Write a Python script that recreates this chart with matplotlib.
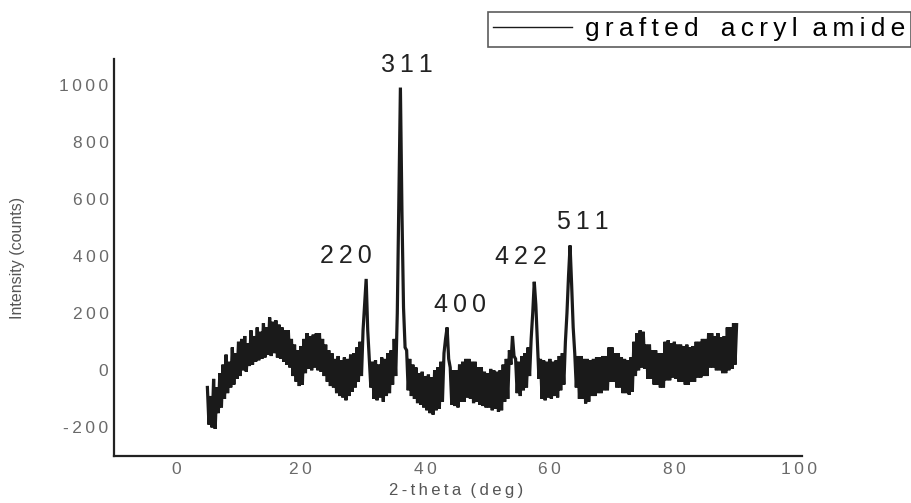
import numpy as np
import matplotlib
matplotlib.use("Agg")
from matplotlib import pyplot as plt
from matplotlib.ticker import FuncFormatter

# 2-theta grid, 0.25 deg steps from 5 to 90
two_theta = np.arange(5.0, 90.01, 0.25)

# intensity, four values per degree
intensity = [
    -60, -190, -90, -200,     # 5
    -30, -205, -60, -150,     # 6
    -10, -130, 20, -100,      # 7
    55, -80, 30, -60,         # 8
    80, -50, 60, -30,         # 9
    100, -20, 110, 0,         # 10
    120, -5, 95, 15,          # 11
    140, 20, 120, 30,         # 12
    150, 35, 135, 40,         # 13
    165, 45, 150, 55,         # 14
    185, 50, 170, 60,         # 15
    175, 45, 160, 40,         # 16
    150, 30, 140, 20,         # 17
    140, 10, 110, -20,        # 18
    90, -40, 70, -55,         # 19
    85, -50, 110, -10,        # 20
    130, 5, 120, 0,           # 21
    125, 10, 130, 0,          # 22
    130, -5, 110, -20,        # 23
    90, -40, 70, -55,         # 24
    60, -60, 40, -80,         # 25
    50, -90, 35, -95,         # 26
    45, -105, 40, -90,        # 27
    55, -75, 60, -60,         # 28
    80, -40, 100, -20,        # 29
    140, 230, 320, 140,       # 30
    40, -60, 30, -100,        # 31
    35, -105, 20, -95,        # 32
    45, -110, 40, -90,        # 33
    60, -80, 70, -50,         # 34
    110, -20, 200, 600,       # 35
    990, 550, 220, 80,        # 36
    70, -70, 40, -90,         # 37
    20, -100, 10, -115,       # 38
    -10, -120, -5, -130,      # 39
    -20, -140, -15, -150,     # 40
    -25, -155, 0, -140,       # 41
    10, -135, 30, -110,       # 42
    60, 110, 150, 40,         # 43
    10, -120, 0, -125,        # 44
    0, -130, 20, -110,        # 45
    30, -110, 40, -95,        # 46
    40, -100, 30, -115,       # 47
    30, -110, 10, -120,       # 48
    10, -125, -5, -130,       # 49
    -10, -130, 5, -140,       # 50
    0, -135, -5, -145,        # 51
    0, -140, 20, -110,        # 52
    40, -100, 70, 20,         # 53
    120, 50, 40, -80,         # 54
    30, -90, 50, -70,         # 55
    60, -60, 80, -20,         # 56
    110, 200, 310, 230,       # 57
    100, -30, 40, -100,       # 58
    35, -105, 30, -95,        # 59
    40, -100, 30, -90,        # 60
    35, -95, 50, -70,         # 61
    60, -50, 100, 200,        # 62
    330, 437, 300, 150,       # 63
    60, -60, 50, -100,        # 64
    50, -100, 40, -116,       # 65
    40, -110, 35, -90,        # 66
    40, -90, 45, -80,         # 67
    45, -80, 50, -70,         # 68
    50, -70, 80, -40,         # 69
    80, -40, 60, -60,         # 70
    60, -60, 45, -80,         # 71
    40, -80, 35, -85,         # 72
    45, -75, 100, -20,        # 73
    130, 0, 140, 10,          # 74
    135, 5, 90, -30,          # 75
    90, -30, 70, -50,         # 76
    70, -50, 60, -60,         # 77
    60, -60, 100, -35,        # 78
    105, -35, 95, -25,        # 79
    100, -30, 90, -40,        # 80
    90, -40, 85, -50,         # 81
    90, -50, 80, -40,         # 82
    85, -40, 100, -25,        # 83
    100, -25, 110, -20,       # 84
    110, -20, 130, 10,        # 85
    130, 10, 120, 0,          # 86
    130, 0, 115, -10,         # 87
    120, -10, 150, 0,         # 88
    150, 5, 165, 20,          # 89
    160,                      # 90
]

peak_labels = ["220", "311", "400", "422", "511"]
peak_label_x = [27.2, 37.1, 45.5, 55.3, 65.3]
peak_label_y = [402, 1070, 227, 395, 518]

x_ticks = [0, 20, 40, 60, 80, 100]
y_ticks = [-200, 0, 200, 400, 600, 800, 1000]

FAMILY = ["Liberation Sans", "DejaVu Sans"]
SP = "\u2009"


def spaced(s):
    # widen letter spacing like the original figure
    return SP.join(s)


plt.rcParams["font.family"] = FAMILY

fig = plt.figure(figsize=(9.12, 5.03), dpi=100)
ax = fig.add_axes([114 / 912, 1 - 456 / 503, (802 - 114) / 912, (456 - 59) / 503])

ax.plot(two_theta, intensity, color="#1a1a1a", linewidth=2.3, solid_joinstyle="miter",
        label=spaced("grafted") + "   " + spaced("acryl") + "  " + spaced("amide"))

ax.set_xlim(-10, 100.5)
ax.set_ylim(-300, 1090)
ax.set_xticks(x_ticks)
ax.set_yticks(y_ticks)
ax.xaxis.set_major_formatter(FuncFormatter(lambda v, p: spaced("%d" % v)))
ax.yaxis.set_major_formatter(FuncFormatter(lambda v, p: spaced("%d" % v)))
ax.tick_params(length=0, labelsize=12.5, labelcolor="#6a6a6a", pad=4)

for side in ["top", "right"]:
    ax.spines[side].set_visible(False)
for side in ["left", "bottom"]:
    ax.spines[side].set_color("#222222")
    ax.spines[side].set_linewidth(1.6)

for lab, lx, ly in zip(peak_labels, peak_label_x, peak_label_y):
    ax.text(lx, ly, spaced(lab), fontsize=18, color="#222222", ha="center", va="center", clip_on=False)

fig.text(18 / 912, 1 - 258 / 503, "Intensity (counts)", rotation=90, fontsize=11.5,
         color="#555555", ha="center", va="center")
fig.text(456 / 912, 1 - 490 / 503, spaced("2-theta") + "  " + spaced("(deg)"), fontsize=12,
         color="#555555", ha="center", va="center")

leg = fig.legend(loc="upper right", bbox_to_anchor=(911 / 912, 1 - 12 / 503), fontsize=19,
                 frameon=True, fancybox=False, handlelength=3.0, handletextpad=0.5,
                 borderpad=0.2, borderaxespad=0)
leg.get_frame().set_edgecolor("#333333")
leg.get_frame().set_linewidth(1.2)
for line in leg.get_lines():
    line.set_linewidth(1.0)

fig.savefig("out.png", dpi=100)
